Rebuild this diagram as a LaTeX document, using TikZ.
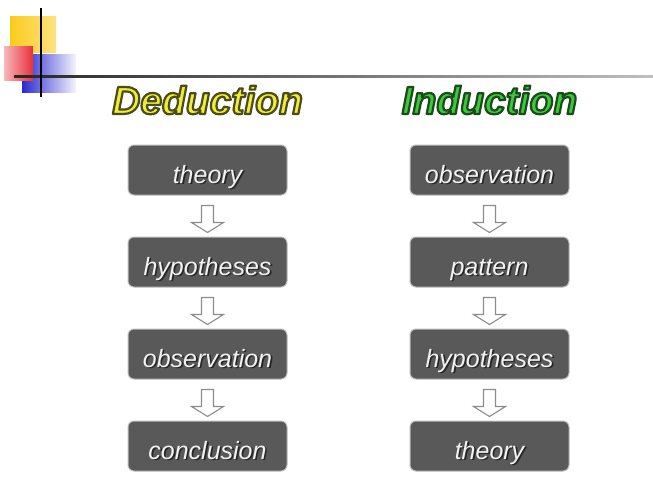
\documentclass[tikz,border=0pt]{standalone}
\usepackage{fontspec}
\setmainfont{Liberation Sans}
\usetikzlibrary{positioning,calc}
\definecolor{boxgray}{HTML}{595959}
\definecolor{boxedge}{HTML}{BDBDBD}
\definecolor{textlight}{HTML}{F2F2F2}
\definecolor{dedyellow}{HTML}{EEEE3A}
\definecolor{indgreen}{HTML}{3FC63F}
\definecolor{decoyellow}{HTML}{FCCB1A}
\definecolor{decored}{HTML}{E8303A}
\definecolor{decoblue}{HTML}{2A2ACF}
\newcommand{\schatten}[1]{\leavevmode\rlap{\kern1.6pt\raisebox{-1.6pt}{\color{black!85}#1}}#1}
\newcommand{\umriss}[2]{\leavevmode\special{pdf:literal q 2 Tr 2.2 w 1 j #1 RG}#2\special{pdf:literal Q}}
\tikzset{
  stepbox/.style = {
    rectangle, rounded corners=6pt, fill=boxgray, draw=boxedge, line width=1pt,
    minimum width=159pt, minimum height=50pt, inner sep=0pt,
    text height=29pt, text depth=3pt,
    text=textlight, font=\fontsize{25}{30}\selectfont\itshape
  },
  titel/.style = {inner sep=0pt, font=\fontsize{39}{44}\selectfont\bfseries\itshape},
  hollow/.style = {draw=black!45, fill=white, line width=1.1pt, line join=miter}
}
\newcommand{\hohlpfeil}[2]{%
  \draw[hollow] ($(#1.south)+(-6,10)$) -- ($(#1.south)+(6,10)$) -- ($(#2.north)+(6,-14)$)
    -- ($(#2.north)+(16,-14)$) -- ($(#2.north)+(0,-4)$) -- ($(#2.north)+(-16,-14)$)
    -- ($(#2.north)+(-6,-14)$) -- cycle;}

\begin{document}
\begin{tikzpicture}[x=1pt,y=-1pt]
  \pgfmathsetmacro{\breite}{653};
  \pgfmathsetmacro{\hoehe}{503};
  \pgfmathsetmacro{\xlinks}{207.5};
  \pgfmathsetmacro{\xrechts}{489.5};
  \pgfmathsetmacro{\yeins}{170};
  \pgfmathsetmacro{\yzwei}{262};
  \pgfmathsetmacro{\ydrei}{354};
  \pgfmathsetmacro{\yvier}{446};
  \pgfmathsetmacro{\ytitel}{100};
  \fill[white] (0,0) rectangle (\breite,\hoehe);
  \useasboundingbox (0,0) rectangle (\breite,\hoehe);
  \shade[left color=decoyellow, right color=decoyellow!55] (10,17) rectangle (56,53);
  \shade[left color=decoblue, right color=decoblue!5] (22,55) rectangle (76,92);
  \shade[left color=decored!35, right color=decored] (4,47) rectangle (33,80);
  \shade[left color=black!85, right color=black!25] (14,75) rectangle (\breite,77);
  \draw[line width=2pt] (41,8) -- (41,97);
  \node[titel, text=dedyellow] (deduktion) at (\xlinks,\ytitel) {\umriss{0.3 0.3 0.1}{Deduction}};
  \node[titel, text=indgreen] (induktion) at (\xrechts,\ytitel) {\umriss{0.1 0.3 0.1}{Induction}};
  \node[stepbox] (d1) at (\xlinks,\yeins) {\schatten{theory}};
  \node[stepbox] (d2) at (\xlinks,\yzwei) {\schatten{hypotheses}};
  \node[stepbox] (d3) at (\xlinks,\ydrei) {\schatten{observation}};
  \node[stepbox] (d4) at (\xlinks,\yvier) {\schatten{conclusion}};
  \node[stepbox] (i1) at (\xrechts,\yeins) {\schatten{observation}};
  \node[stepbox] (i2) at (\xrechts,\yzwei) {\schatten{pattern}};
  \node[stepbox] (i3) at (\xrechts,\ydrei) {\schatten{hypotheses}};
  \node[stepbox] (i4) at (\xrechts,\yvier) {\schatten{theory}};
  \hohlpfeil{d1}{d2}
  \hohlpfeil{d2}{d3}
  \hohlpfeil{d3}{d4}
  \hohlpfeil{i1}{i2}
  \hohlpfeil{i2}{i3}
  \hohlpfeil{i3}{i4}
\end{tikzpicture}
\end{document}
